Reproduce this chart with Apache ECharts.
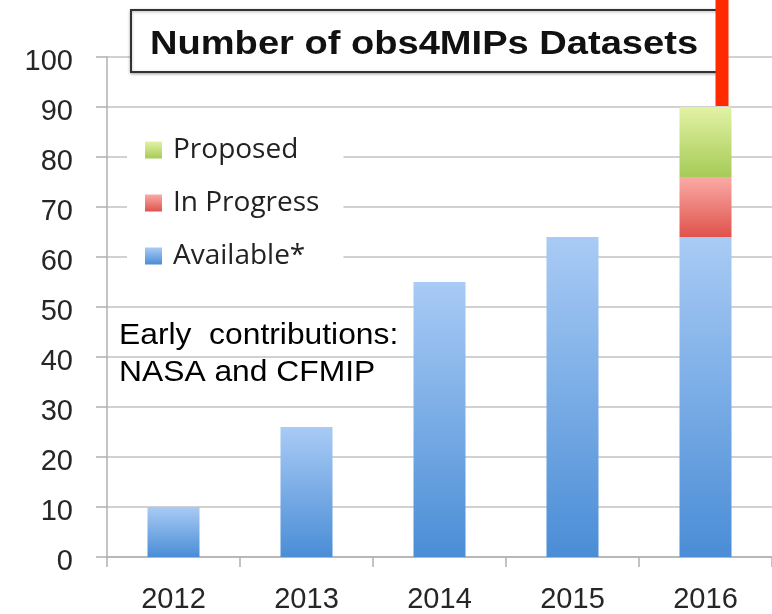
<!DOCTYPE html>
<html>
<head>
<meta charset="utf-8">
<script src="https://cdn.jsdelivr.net/npm/echarts@6/dist/echarts.min.js"></script>
<style>html,body{margin:0;padding:0;background:#fff}#c{width:772px;height:614px}</style>
</head>
<body>
<div id="c"></div>
<script>
var years = ['2012', '2013', '2014', '2015', '2016'];
var available = [10, 26, 55, 64, 64];
var inProgress = ['-', '-', '-', '-', 12];
var proposed = ['-', '-', '-', '-', 14];
var yTicks = [0, 10, 20, 30, 40, 50, 60, 70, 80, 90, 100];
var titleText = 'Number of obs4MIPs Datasets';
var noteLines = ['Early  contributions:', 'NASA and CFMIP'];

function grad(top, bottom) {
  return {type: 'linear', x: 0, y: 0, x2: 0, y2: 1,
    colorStops: [{offset: 0, color: top}, {offset: 1, color: bottom}]};
}
var FONT = 'Liberation Sans';
var chart = echarts.init(document.getElementById('c'));
var option = {
  animation: false,
  backgroundColor: '#fff',
  grid: {left: 107, top: 57, width: 667, height: 501},
  legend: {
    data: ['Proposed', 'In Progress', 'Available*'],
    orient: 'vertical', left: 127, top: 127,
    padding: [8, 24, 8, 18],
    backgroundColor: '#fff',
    itemWidth: 17, itemHeight: 17, itemGap: 23,
    icon: 'rect',
    textStyle: {fontFamily: 'Open Sans', fontSize: 28, color: '#222', lineHeight: 30, padding: [0, 0, 0, 6]}
  },
  xAxis: {
    type: 'category', data: years,
    axisLine: {lineStyle: {color: '#b0b0b0', width: 1.5}},
    axisTick: {show: true, length: 10, lineStyle: {color: '#b0b0b0', width: 1.5}},
    axisLabel: {fontFamily: FONT, fontSize: 29, color: '#262626', margin: 28}
  },
  yAxis: {
    type: 'value', min: 0, max: 100, interval: 10,
    axisLine: {show: true, lineStyle: {color: '#b0b0b0', width: 1.5}},
    axisTick: {show: true, length: 11, lineStyle: {color: '#b0b0b0', width: 1.5}},
    splitLine: {lineStyle: {color: '#c2c2c2', width: 1.5}},
    axisLabel: {fontFamily: FONT, fontSize: 29, color: '#262626', margin: 34,
      verticalAlign: 'top', lineHeight: 10,
      formatter: function (v) { return yTicks.indexOf(v) >= 0 ? String(v) : ''; }}
  },
  series: [
    {name: 'Available*', type: 'bar', stack: 'n', barWidth: 52, data: available,
      itemStyle: {color: grad('#a9cbf5', '#4a8dd6')}},
    {name: 'In Progress', type: 'bar', stack: 'n', barWidth: 52, data: inProgress,
      itemStyle: {color: grad('#fbaaa6', '#df534c')}},
    {name: 'Proposed', type: 'bar', stack: 'n', barWidth: 52, data: proposed,
      itemStyle: {color: grad('#e2f2a4', '#a6cb57')}}
  ]
};
chart.setOption(option);

var topPt = chart.convertToPixel({gridIndex: 0}, ['2016', 90]);
chart.setOption({
  graphic: [
    {type: 'group', z: 100, children: [
      {type: 'rect', shape: {x: 131, y: 10, width: 594, height: 62},
        style: {fill: '#fff', stroke: '#333', lineWidth: 2, shadowBlur: 3, shadowColor: 'rgba(0,0,0,0.3)', shadowOffsetY: 1}},
      {type: 'text', x: 150, y: 45, scaleX: 1.12, style: {text: titleText, fontFamily: FONT, fontWeight: 'bold', fontSize: 34,
        fill: '#111', align: 'left', verticalAlign: 'middle'}}
    ]},
    {type: 'rect', z: 101, shape: {x: topPt[0] + 10, y: 0, width: 13, height: topPt[1] - 1},
      style: {fill: '#ff2a00'}},
    {type: 'text', z: 90, x: 119, y: 317, scaleX: 1.06, style: {text: noteLines.join('\n'), fontFamily: FONT, fontSize: 30,
      lineHeight: 37, fill: '#000'}}
  ]
});
</script>
</body>
</html>
